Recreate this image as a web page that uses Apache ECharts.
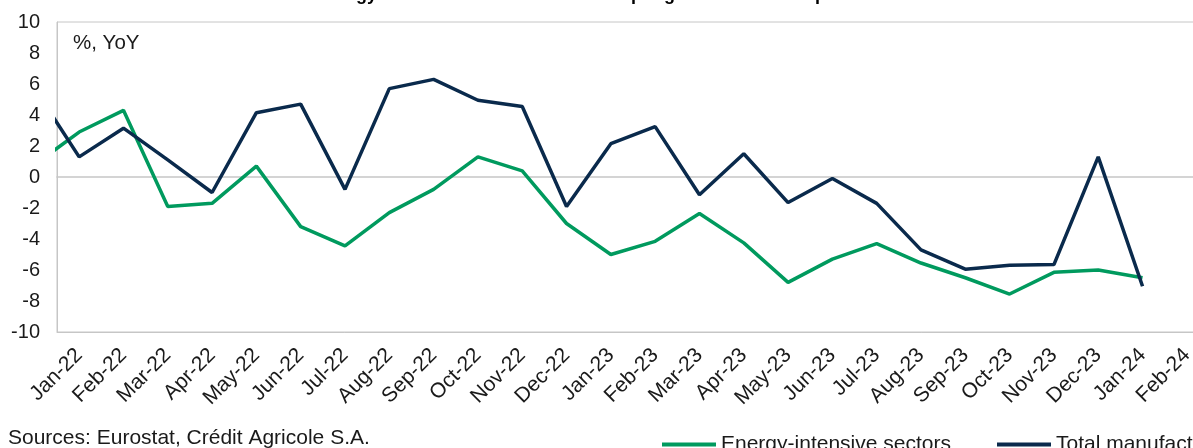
<!DOCTYPE html>
<html>
<head>
<meta charset="utf-8">
<script src="https://cdn.jsdelivr.net/npm/echarts@6/dist/echarts.min.js"></script>
<style>
  html, body { margin: 0; padding: 0; background: #ffffff; overflow: hidden; }
  #chart { width: 1225px; height: 448px; }
</style>
</head>
<body>
<div id="chart"></div>
<script>
// Monthly labels; index 0 = Jan-22. Dec-21 (index -1) sits just left of the plot and is clipped.
const monthLabels = ['Jan-22','Feb-22','Mar-22','Apr-22','May-22','Jun-22','Jul-22','Aug-22','Sep-22','Oct-22','Nov-22','Dec-22',
  'Jan-23','Feb-23','Mar-23','Apr-23','May-23','Jun-23','Jul-23','Aug-23','Sep-23','Oct-23','Nov-23','Dec-23',
  'Jan-24','Feb-24'];
const firstIndex = -1; // Dec-21

// Industrial production, % YoY (Dec-21 .. Jan-24)
const energyIntensive = [0.8, 2.9, 4.3, -1.9, -1.7, 0.7, -3.2, -4.45, -2.3, -0.8, 1.3, 0.4, -3.0,
  -5.0, -4.15, -2.35, -4.25, -6.8, -5.3, -4.3, -5.55, -6.5, -7.55, -6.15, -6.0, -6.5];
const totalManufacturing = [5.7, 1.3, 3.15, 1.1, -1.0, 4.15, 4.7, -0.8, 5.7, 6.3, 4.95, 4.55, -1.9,
  2.15, 3.25, -1.15, 1.5, -1.65, -0.1, -1.7, -4.7, -5.95, -5.7, -5.65, 1.3, -7.05];

const yTicks = { min: -10, max: 10, step: 2 };

const toPoints = (arr) => arr.map((v, i) => [firstIndex + i, v]);

const FONT = '"Liberation Sans", Arial, sans-serif';
const GREY = '#c6c6c6';
const GREEN = '#009a5e';
const NAVY = '#0a2a4c';

const chart = echarts.init(document.getElementById('chart'), null, { renderer: 'canvas' });

const legendText = { fontSize: 21, color: '#1a1a1a', fontFamily: FONT };

chart.setOption({
  animation: false,
  backgroundColor: '#ffffff',
  textStyle: { fontFamily: FONT },
  grid: {
    left: 57, right: 16, top: 22, bottom: 116,
    show: true, borderColor: GREY, borderWidth: 1, backgroundColor: 'transparent'
  },
  graphic: [
    {
      type: 'text', left: 316, top: -14, z: 10,
      style: {
        text: 'Energy-intensive sectors: slower output growth than total production',
        font: 'bold 18px ' + FONT, fill: '#000000'
      }
    },
    {
      type: 'text', left: 73, top: 33, z: 10,
      style: { text: '%, YoY', font: '20.5px ' + FONT, fill: '#1a1a1a' }
    },
    {
      type: 'text', left: 8, top: 428, z: 10,
      style: { text: 'Sources: Eurostat, Crédit Agricole S.A.', font: '21px ' + FONT, fill: '#1a1a1a' }
    }
  ],
  legend: [
    {
      left: 657, top: 429, itemWidth: 54, itemHeight: 4, icon: 'rect',
      textStyle: legendText, data: ['Energy-intensive sectors']
    },
    {
      left: 992, top: 429, itemWidth: 54, itemHeight: 4, icon: 'rect', itemGap: 0,
      textStyle: legendText, data: ['Total manufacturing']
    }
  ],
  xAxis: [
    {
      type: 'value',
      min: -0.5, max: 25.5, interval: 0.5,
      axisLine: { show: true, onZero: false, lineStyle: { color: GREY, width: 1 } },
      axisTick: { show: false },
      splitLine: { show: false },
      axisLabel: {
        rotate: 45, margin: 20, fontSize: 21, color: '#1a1a1a', fontFamily: FONT,
        showMinLabel: true, showMaxLabel: true,
        formatter: (v) => {
          const i = Math.round(v * 2) / 2;
          if (!Number.isInteger(i)) return '';
          return monthLabels[i] || '';
        }
      }
    },
    {
      // zero line across the plot
      type: 'value', position: 'bottom',
      min: -0.5, max: 25.5,
      axisLine: { show: true, onZero: true, lineStyle: { color: GREY, width: 1.5 } },
      axisTick: { show: false }, axisLabel: { show: false }, splitLine: { show: false }
    }
  ],
  yAxis: {
    type: 'value',
    min: yTicks.min, max: yTicks.max, interval: yTicks.step,
    axisLine: { show: true, onZero: false, lineStyle: { color: GREY, width: 1 } },
    axisTick: { show: false },
    splitLine: { show: false },
    axisLabel: { fontSize: 20, color: '#1a1a1a', margin: 17, fontFamily: FONT }
  },
  series: [
    {
      name: 'Energy-intensive sectors', type: 'line', xAxisIndex: 0,
      data: toPoints(energyIntensive),
      symbol: 'none', smooth: false, clip: true,
      lineStyle: { color: GREEN, width: 3.5 }, itemStyle: { color: GREEN },
      z: 3
    },
    {
      name: 'Total manufacturing', type: 'line', xAxisIndex: 0,
      data: toPoints(totalManufacturing),
      symbol: 'none', smooth: false, clip: true,
      lineStyle: { color: NAVY, width: 3.5 }, itemStyle: { color: NAVY },
      z: 4
    }
  ]
});
</script>
</body>
</html>
